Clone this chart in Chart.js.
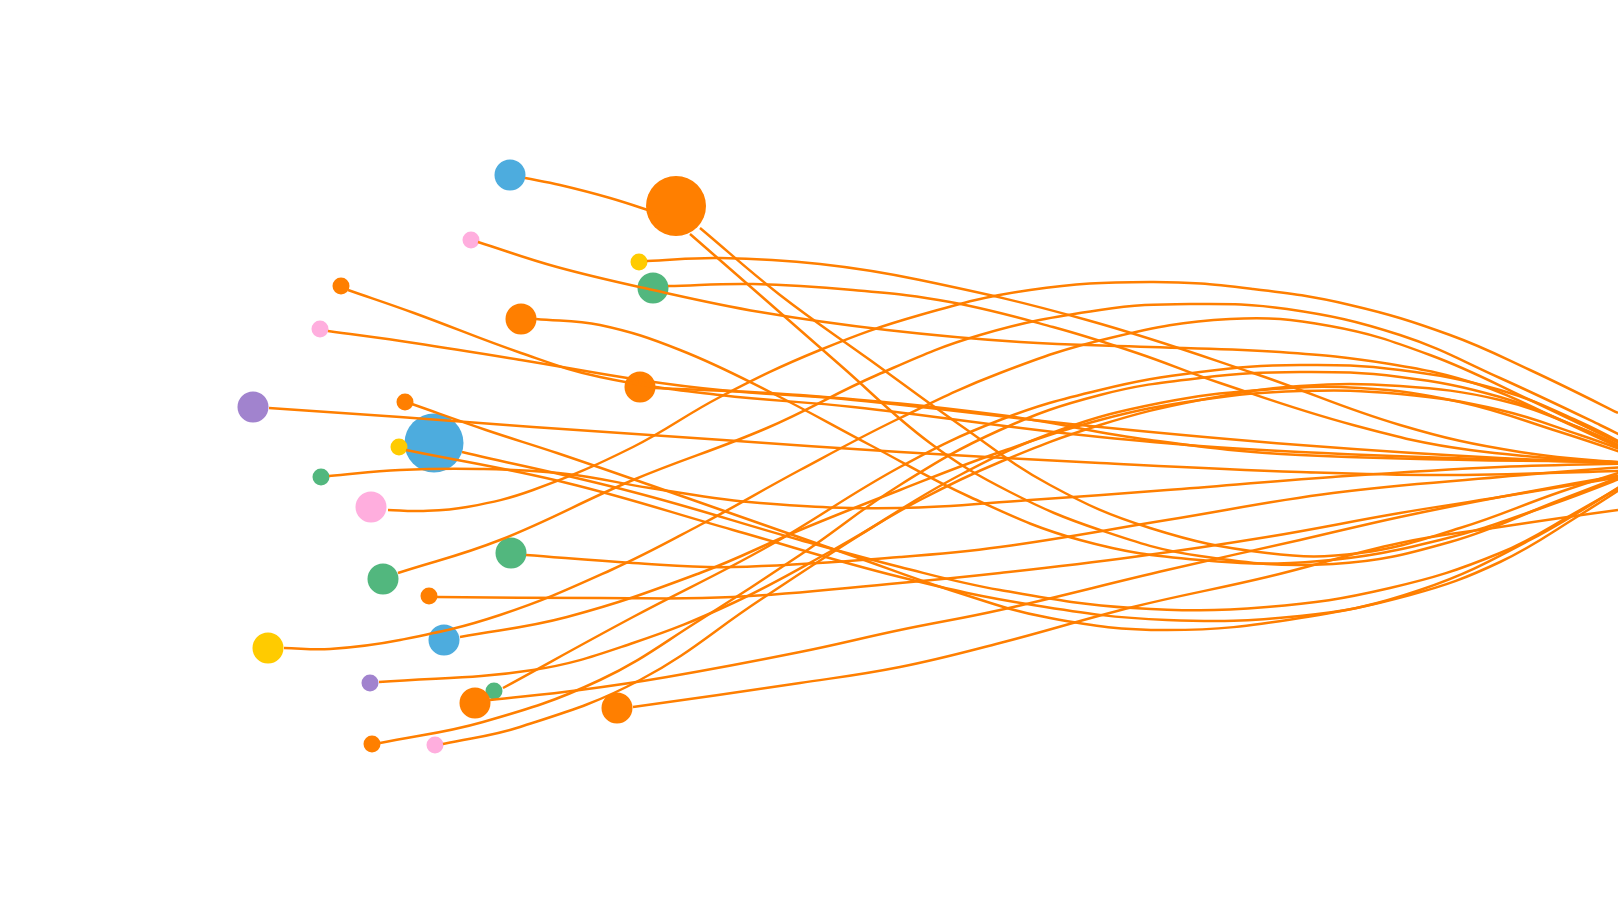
<!DOCTYPE html>
<html>
<head>
<meta charset="utf-8">
<script src="https://cdn.jsdelivr.net/npm/chart.js@4"></script>
<style>
  html, body { margin: 0; padding: 0; background: #fff; }
  #wrap { width: 1618px; height: 912px; }
</style>
</head>
<body>
<div id="wrap"><canvas id="chart"></canvas></div>
<script>
// nodes (x, y in chart units, r = bubble size, group = colour family)
const nodeX = [510, 676, 471, 639, 653, 341, 521, 320, 640, 253, 405, 434, 399, 321, 371, 511, 383, 429, 268, 444, 370, 494, 475, 617, 372, 435];
const nodeY = [175, 206, 240, 262, 288, 286, 319, 329, 387, 407, 402, 443, 447, 477, 507, 553, 579, 596, 648, 640, 683, 691, 703, 708, 744, 745];
const nodeR = [15.5, 30, 8.5, 8.5, 15.5, 8.5, 15.5, 8.5, 15.5, 15.5, 8.5, 29.5, 8.5, 8.5, 15.5, 15.5, 15.5, 8.5, 15.5, 15.5, 8.5, 8.5, 15.5, 15.5, 8.5, 8.5];
const nodeGroup = ['blue', 'orange', 'pink', 'yellow', 'green', 'orange', 'orange', 'pink', 'orange', 'purple', 'orange', 'blue', 'yellow', 'green', 'pink', 'green', 'green', 'orange', 'yellow', 'blue', 'purple', 'green', 'orange', 'orange', 'orange', 'pink'];

const palette = {
    blue: '#4dacde',
    orange: '#ff7f00',
    pink: '#ffaede',
    yellow: '#ffcb00',
    green: '#52b77e',
    purple: '#a183ce'
};

// links: points, left to right
const linkPaths = [
    // blue -> big orange
    [[525,178],[560,185],[610,198],[660,214]],
    // big orange, two links
    [[700,228],[780,295],[870,360],[960,425],[1050,485],[1150,528],[1267,553],[1360,553],[1460,528],[1560,492],[1650,463]],
    [[690,234],[760,295],[840,365],[930,443],[1010,492],[1100,530],[1200,556],[1333,564],[1450,542],[1560,500],[1650,465]],
    // upper nodes
    [[478,242],[557,267],[653,290],[760,312],[887,330],[1020,342],[1150,347],[1280,352],[1390,364],[1480,385],[1560,420],[1650,462]],
    [[647,261],[720,258],[820,264],[920,280],[1087,320],[1253,373],[1400,425],[1520,452],[1650,465]],
    [[668,286],[753,284],[853,290],[950,302],[1053,327],[1137,353],[1220,383],[1353,425],[1470,450],[1650,465]],
    [[348,290],[414,313],[521,353],[600,377],[720,395],[853,407],[1100,437],[1300,452],[1650,464]],
    [[536,319],[600,325],[680,350],[770,392],[870,445],[970,497],[1080,540],[1200,560],[1320,561],[1440,540],[1550,505],[1650,467]],
    [[328,331],[414,343],[521,360],[640,380],[720,390],[853,400],[1100,427],[1300,445],[1500,458],[1650,463]],
    [[655,388],[800,395],[1000,415],[1150,440],[1300,455],[1650,463]],
    [[269,408],[400,417],[533,427],[723,440],[900,452],[1100,463],[1300,472],[1450,475],[1650,470]],
    // middle nodes dipping low
    [[412,404],[486,430],[557,453],[650,485],[750,520],[850,555],[950,590],[1050,618],[1167,630],[1300,618],[1420,590],[1530,540],[1650,468]],
    [[462,452],[633,492],[800,540],[900,567],[1000,590],[1133,608],[1267,607],[1390,588],[1500,553],[1580,510],[1650,470]],
    [[406,450],[567,483],[733,530],[900,577],[1033,605],[1167,620],[1300,616],[1410,595],[1500,562],[1580,515],[1650,470]],
    [[329,476],[400,470],[480,469],[567,474],[650,488],[760,503],[900,508],[1030,500],[1167,490],[1333,477],[1500,467],[1650,463]],
    // lower nodes rising high
    [[388,510],[420,511],[467,507],[533,490],[633,447],[720,397],[820,350],[920,315],[1030,290],[1150,282],[1253,289],[1350,305],[1450,335],[1530,370],[1618,413],[1680,445]],
    [[526,555],[633,563],[733,567],[900,557],[1000,547],[1167,520],[1333,493],[1500,477],[1650,465]],
    [[398,573],[500,540],[633,480],[767,428],[877,375],[980,335],[1100,310],[1190,304],[1287,309],[1400,335],[1500,378],[1600,425],[1660,455]],
    [[437,597],[600,598],[733,597],[900,583],[1000,573],[1133,557],[1267,537],[1400,513],[1500,497],[1650,472]],
    [[284,648],[330,649],[400,640],[500,615],[611,570],[700,525],[800,470],[900,418],[1000,373],[1110,338],[1230,319],[1330,326],[1430,355],[1530,400],[1650,458]],
    [[460,637],[567,617],[700,573],[800,530],[900,490],[1000,452],[1100,420],[1200,400],[1300,391],[1400,394],[1500,410],[1580,435],[1650,460]],
    [[379,682],[533,670],[633,643],[733,603],[833,550],[920,500],[1000,462],[1100,425],[1200,400],[1300,386],[1400,386],[1500,400],[1580,428],[1650,460]],
    [[503,688],[633,617],[767,547],[900,467],[1000,420],[1100,390],[1200,372],[1300,365],[1400,370],[1500,390],[1580,422],[1650,458]],
    [[490,700],[580,690],[667,677],[800,652],[900,630],[1000,610],[1167,570],[1300,540],[1400,517],[1500,497],[1650,470]],
    [[633,707],[800,683],[900,667],[1000,643],[1133,607],[1267,577],[1400,543],[1500,527],[1618,510],[1700,500]],
    [[380,743],[483,722],[600,680],[700,620],[800,555],[900,485],[1000,430],[1100,395],[1200,378],[1300,372],[1400,377],[1500,397],[1580,428],[1650,460]],
    [[443,744],[520,727],[640,680],[760,600],[860,535],[960,475],[1060,430],[1160,403],[1260,390],[1360,388],[1460,402],[1560,432],[1650,462]]
];

const linkColor = '#ff7f00';

const datasets = linkPaths.map(path => ({
    type: 'scatter',
    data: path.map(p => ({ x: p[0], y: p[1] })),
    showLine: true,
    borderColor: linkColor,
    borderWidth: 2.5,
    pointRadius: 0,
    fill: false,
    tension: 0.4,
    order: 1
}));

datasets.push({
    type: 'bubble',
    data: nodeX.map((x, i) => ({ x: x, y: nodeY[i], r: nodeR[i] })),
    backgroundColor: nodeGroup.map(g => palette[g]),
    borderWidth: 0,
    order: 2
});

const ctx = document.getElementById('chart').getContext('2d');
new Chart(ctx, {
    type: 'scatter',
    data: { datasets: datasets },
    options: {
        responsive: true,
        maintainAspectRatio: false,
        animation: false,
        layout: { padding: 0, autoPadding: false },
        scales: {
            x: { type: 'linear', min: 0, max: 1618, display: false },
            y: { type: 'linear', min: 0, max: 912, reverse: true, display: false }
        },
        plugins: {
            legend: { display: false },
            tooltip: { enabled: false }
        }
    }
});
</script>
</body>
</html>
